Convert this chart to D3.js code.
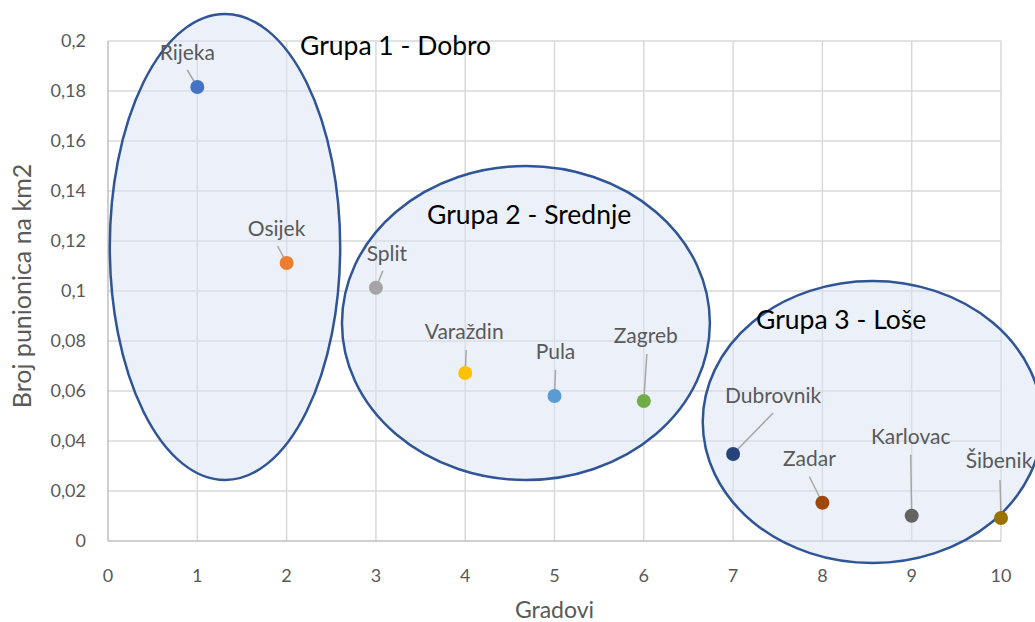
<!DOCTYPE html>
<html>
<head>
<meta charset="utf-8">
<script src="https://cdn.jsdelivr.net/npm/d3@7"></script>
<style>
  body { margin: 0; background: #fff; }
  text { font-family: Lato, "Open Sans", sans-serif; }
</style>
</head>
<body>
<svg id="chart" width="1035" height="622"></svg>
<script>
// data
const cities = ["Rijeka", "Osijek", "Split", "Varaždin", "Pula", "Zagreb", "Dubrovnik", "Zadar", "Karlovac", "Šibenik"];
const xValues = [1, 2, 3, 4, 5, 6, 7, 8, 9, 10];
const yValues = [0.1816, 0.1112, 0.1013, 0.0672, 0.058, 0.056, 0.0348, 0.0153, 0.0101, 0.0092];
const pointColors = ["#4472C4", "#ED7D31", "#A5A5A5", "#FFC000", "#5B9BD5", "#70AD47", "#264478", "#9E480E", "#636363", "#997300"];

const xTicks = [0, 1, 2, 3, 4, 5, 6, 7, 8, 9, 10];
const yTicks = [0, 0.02, 0.04, 0.06, 0.08, 0.1, 0.12, 0.14, 0.16, 0.18, 0.2];

// groups: centre and radii in data units
const groupNames = ["Grupa 1 - Dobro", "Grupa 2 - Srednje", "Grupa 3 - Loše"];
const groupCx = [1.31, 4.68, 8.56];
const groupCy = [0.1176, 0.0872, 0.0476];
const groupRx = [1.29, 2.06, 1.90];
const groupRy = [0.0932, 0.0628, 0.0564];

// label offsets in pixels (text centre dx, baseline dy, leader start dx, dy)
const labelOffsets = [
  [-10, -27, -10, -17], [-10, -27, -9, -17], [11, -27, 7, -17], [-1, -34, 1, -23],
  [1, -37, 1, -26], [2, -58, 3, -47], [40, -51, 40, -41], [-13, -37, -13, -26],
  [-1, -72, -1, -61], [-2, -50, -1, -38]
];
const titleOffsets = [[300, 55], [427, 224], [756, 329]];

const margin = { left: 108, right: 34, top: 41, bottom: 81 };
const width = 1035, height = 622;

const svg = d3.select("#chart");

const x = d3.scaleLinear().domain([0, 10]).range([margin.left, width - margin.right]);
const y = d3.scaleLinear().domain([0, 0.2]).range([height - margin.bottom, margin.top]);

const grid = svg.append("g");
grid.selectAll("line.v")
  .data(xTicks.slice(1))
  .join("line")
  .attr("x1", d => x(d)).attr("x2", d => x(d))
  .attr("y1", y(0)).attr("y2", y(0.2))
  .attr("stroke", "#D9D9D9").attr("stroke-width", 1.5);
grid.selectAll("line.h")
  .data(yTicks.slice(1))
  .join("line")
  .attr("x1", x(0)).attr("x2", x(10))
  .attr("y1", d => y(d)).attr("y2", d => y(d))
  .attr("stroke", "#D9D9D9").attr("stroke-width", 1.5);

// axis lines
svg.append("line")
  .attr("x1", x(0)).attr("x2", x(10)).attr("y1", y(0)).attr("y2", y(0))
  .attr("stroke", "#BFBFBF").attr("stroke-width", 1.5);
svg.append("line")
  .attr("x1", x(0)).attr("x2", x(0)).attr("y1", y(0)).attr("y2", y(0.2))
  .attr("stroke", "#BFBFBF").attr("stroke-width", 1.5);

// tick labels
svg.append("g").selectAll("text")
  .data(xTicks)
  .join("text")
  .attr("x", d => x(d))
  .attr("y", y(0) + 41)
  .attr("text-anchor", "middle")
  .attr("font-size", 18)
  .attr("fill", "#595959")
  .text(d => d);

const fmt = d => String(+d.toFixed(2)).replace(".", ",");
svg.append("g").selectAll("text")
  .data(yTicks)
  .join("text")
  .attr("x", x(0) - 22)
  .attr("y", d => y(d) + 6)
  .attr("text-anchor", "end")
  .attr("font-size", 18)
  .attr("fill", "#595959")
  .text(fmt);

// axis titles
svg.append("text")
  .attr("x", (x(0) + x(10)) / 2)
  .attr("y", 618)
  .attr("text-anchor", "middle")
  .attr("font-size", 23)
  .attr("fill", "#595959")
  .text("Gradovi");
svg.append("text")
  .attr("transform", `translate(31, ${(y(0) + y(0.2)) / 2 - 5}) rotate(-90)`)
  .attr("text-anchor", "middle")
  .attr("font-size", 25)
  .attr("fill", "#595959")
  .text("Broj punionica na km2");

// group ellipses
svg.append("g").selectAll("ellipse")
  .data(groupNames)
  .join("ellipse")
  .attr("cx", (d, i) => x(groupCx[i]))
  .attr("cy", (d, i) => y(groupCy[i]))
  .attr("rx", (d, i) => x(groupRx[i]) - x(0))
  .attr("ry", (d, i) => y(0) - y(groupRy[i]))
  .attr("fill", "#DAE3F3")
  .attr("fill-opacity", 0.5)
  .attr("stroke", "#2F5597")
  .attr("stroke-width", 2.5);

// leader lines
svg.append("g").selectAll("line")
  .data(cities)
  .join("line")
  .attr("x1", (d, i) => x(xValues[i]) + labelOffsets[i][2])
  .attr("y1", (d, i) => y(yValues[i]) + labelOffsets[i][3])
  .attr("x2", (d, i) => x(xValues[i]))
  .attr("y2", (d, i) => y(yValues[i]))
  .attr("stroke", "#A6A6A6")
  .attr("stroke-width", 1.5);

// points
svg.append("g").selectAll("circle")
  .data(cities)
  .join("circle")
  .attr("cx", (d, i) => x(xValues[i]))
  .attr("cy", (d, i) => y(yValues[i]))
  .attr("r", 7)
  .attr("fill", (d, i) => pointColors[i]);

// point labels
svg.append("g").selectAll("text")
  .data(cities)
  .join("text")
  .attr("x", (d, i) => x(xValues[i]) + labelOffsets[i][0])
  .attr("y", (d, i) => y(yValues[i]) + labelOffsets[i][1])
  .attr("text-anchor", "middle")
  .attr("font-size", 21)
  .attr("fill", "#595959")
  .text(d => d);

// group titles
svg.append("g").selectAll("text")
  .data(groupNames)
  .join("text")
  .attr("x", (d, i) => titleOffsets[i][0])
  .attr("y", (d, i) => titleOffsets[i][1])
  .attr("font-size", 26.5)
  .attr("fill", "#000")
  .text(d => d);
</script>
</body>
</html>
